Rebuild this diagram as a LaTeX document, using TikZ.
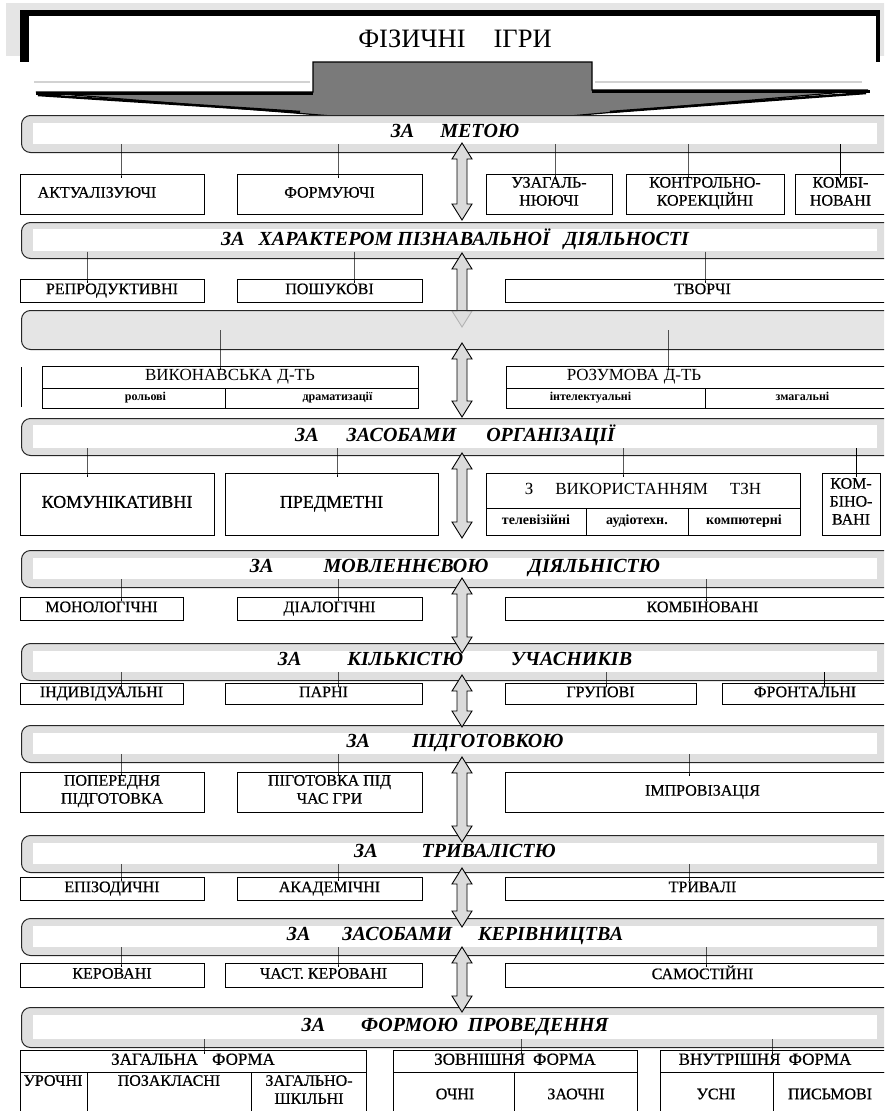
\documentclass[tikz,border=0pt]{standalone}
\usepackage{fontspec}
\setmainfont{Liberation Serif}
\newfontfamily\medfont{Liberation Serif}[FakeBold=0.6]
\newcommand\hdrf{\fontsize{17}{19}\selectfont}
\newcommand\catbar[4]{%
  \node[bar, minimum height={#3-#2}] (#1) at (21,#2) {};
  \node[wbox, minimum height={#3-#2-16}] (w#1) at (455,{(#2+#3)/2}) {#4\strut};}
\newcommand\ibox[6]{%
  \node[item, minimum width={#4-#2}, minimum height={#5-#3}] (#1) at ({(#2+#4)/2},{(#3+#5)/2}) {#6\strut};}
\newcommand\cell[6]{%
  \node[cellbox, minimum width={#4-#2}, minimum height={#5-#3}] (#1) at ({(#2+#4)/2},{(#3+#5)/2}) {#6\strut};}
\newcommand\conn[3]{\draw[connline] (#1.south -| #3,0) -- (#2.north -| #3,0) -- ++(0,4);}
\newcommand\darrow[3]{%
  \draw[blockarrow] (462,#2) -- (472,{#2+16}) -- (467,{#2+16}) -- (467,{#3-16}) -- (472,{#3-16}) -- (462,#3)
   -- (452,{#3-16}) -- (457,{#3-16}) -- (457,{#2+16}) -- (452,{#2+16}) -- cycle;
  \coordinate (#1) at (462,{(#2+#3)/2});}
\begin{document}
\begin{tikzpicture}[x=1pt,y=-1pt,
  bar/.style={draw=black!85, line width=1pt, rounded corners=9pt, fill=gray!25, anchor=north west, minimum width=900pt, inner sep=0pt},
  wbox/.style={fill=white, draw=none, minimum width=844pt, inner sep=0pt, font=\bfseries\itshape\fontsize{20}{21}\selectfont},
  item/.style={draw=black, line width=0.8pt, fill=white, inner sep=1pt, align=center, font=\medfont\fontsize{16}{18}\selectfont},
  cellbox/.style={draw=black, line width=0.8pt, fill=white, inner sep=1pt, align=center, font=\bfseries\fontsize{12}{14}\selectfont},
  connline/.style={draw=black, line width=0.8pt},
  blockarrow/.style={draw=black, line width=0.9pt, fill=gray!28},
  txt/.style={inner sep=0pt, align=center, font=\medfont\fontsize{16}{18}\selectfont}]
\useasboundingbox (0,0) rectangle (884,1111);
\clip (0,0) rectangle (884,1111);
\fill[white] (0,0) rectangle (884,1111);
% ---------- title banner ----------
\fill[gray!20] (6,3) rectangle (890,56);
\fill[black] (20,10) rectangle (880,62);
\fill[white] (29,16) rectangle (876,90);
\draw[gray!35, line width=2pt] (34,82) -- (310,82) (595,82) -- (862,82);
\filldraw[fill=black!52, draw=black, line width=1.2pt] (313,62) -- (592,62) -- (592,90) -- (868,90) -- (455,126) -- (36,92) -- (313,92) -- cycle;
\draw[black, line width=3pt] (36,93) -- (313,93) (592,91) -- (870,91);
\draw[black, line width=2.5pt] (38,95) -- (300,112) (866,93) -- (610,112);
\node[font=\fontsize{26.5}{28}\selectfont, inner sep=0pt] (title) at (455,39) {ФІЗИЧНІ\hspace{28pt}ІГРИ};
% ---------- bars ----------
\catbar{b1}{115}{152}{ЗА\hspace{26pt}МЕТОЮ}
\catbar{b2}{222}{258}{ЗА\hspace{14pt}ХАРАКТЕРОМ ПІЗНАВАЛЬНОЇ\hspace{14pt}ДІЯЛЬНОСТІ}
\darrow{a1}{143}{220}
\darrow{a2}{253}{327}
\node[bar, minimum height=39pt, fill opacity=0.8] (b3) at (21,310) {};
\catbar{b4}{418}{455}{ЗА\hspace{28pt}ЗАСОБАМИ\hspace{30pt}ОРГАНІЗАЦІЇ}
\catbar{b5}{550}{587}{ЗА\hspace{50pt}МОВЛЕННЄВОЮ\hspace{40pt}ДІЯЛЬНІСТЮ}
\catbar{b6}{643}{680}{ЗА\hspace{46pt}КІЛЬКІСТЮ\hspace{48pt}УЧАСНИКІВ}
\catbar{b7}{725}{762}{ЗА\hspace{42pt}ПІДГОТОВКОЮ}
\catbar{b8}{835}{872}{ЗА\hspace{44pt}ТРИВАЛІСТЮ}
\catbar{b9}{918}{955}{ЗА\hspace{32pt}ЗАСОБАМИ\hspace{26pt}КЕРІВНИЦТВА}
\catbar{b10}{1007}{1047}{ЗА\hspace{36pt}ФОРМОЮ\hspace{10pt}ПРОВЕДЕННЯ}
% ---------- row 1 ----------
\ibox{r1a}{20}{174}{204}{214}{\hspace{-30pt}АКТУАЛІЗУЮЧІ}
\ibox{r1b}{237}{174}{422}{214}{ФОРМУЮЧІ}
\ibox{r1c}{486}{174}{612}{214}{УЗАГАЛЬ-\\НЮЮЧІ}
\ibox{r1d}{626}{174}{784}{214}{КОНТРОЛЬНО-\\КОРЕКЦІЙНІ}
\ibox{r1e}{795}{174}{900}{214}{\hspace{-14pt}КОМБІ-\\\hspace{-14pt}НОВАНІ}
\conn{wb1}{r1a}{121}\conn{wb1}{r1b}{338}\conn{wb1}{r1c}{555}\conn{wb1}{r1d}{688}\conn{wb1}{r1e}{840}
% ---------- row 2 ----------
\ibox{r2a}{20}{279}{204}{302}{РЕПРОДУКТИВНІ}
\ibox{r2b}{237}{279}{422}{302}{ПОШУКОВІ}
\ibox{r2c}{505}{279}{900}{302}{ТВОРЧІ}
\conn{wb2}{r2a}{87}\conn{wb2}{r2b}{354}\conn{wb2}{r2c}{705}
% ---------- row 3 ----------
\draw[connline] (21,367) -- (21,407);
\cell{r3a}{42}{366}{418}{388}{\hdrf\mdseries ВИКОНАВСЬКА\hspace{5pt}Д-ТЬ}
\cell{r3a1}{42}{388}{225}{408}{\hspace{24pt}рольові}
\cell{r3a2}{225}{388}{418}{408}{\hspace{32pt}драматизації}
\cell{r3b}{506}{366}{900}{388}{\hspace{-138pt}\hdrf\mdseries РОЗУМОВА\hspace{5pt}Д-ТЬ}
\cell{r3b1}{506}{388}{705}{408}{\hspace{-30pt}інтелектуальні}
\cell{r3b2}{705}{388}{900}{408}{змагальні}
\draw[connline] (b3.center -| 220,0) -- (r3a.north -| 220,0) -- ++(0,4);
\draw[connline] (b3.center -| 668,0) -- (r3b.north -| 668,0) -- ++(0,4);
\darrow{a3}{343}{417}
% ---------- row 4 ----------
\ibox{r4a}{20}{473}{214}{535}{\fontsize{18}{19}\selectfont КОМУНІКАТИВНІ}
\ibox{r4b}{225}{473}{438}{535}{\fontsize{18}{19}\selectfont ПРЕДМЕТНІ}
\cell{r4c}{486}{473}{800}{508}{\hdrf\mdseries З\hspace{22pt}ВИКОРИСТАННЯМ\hspace{22pt}ТЗН}
\cell{r4c1}{486}{508}{586}{535}{\fontsize{14}{15}\selectfont телевізійні}
\cell{r4c2}{586}{508}{688}{535}{\fontsize{14}{15}\selectfont аудіотехн.}
\cell{r4c3}{688}{508}{800}{535}{\fontsize{14}{15}\selectfont компютерні}
\ibox{r4d}{822}{473}{880}{535}{КОМ-\\БІНО-\\ВАНІ}
\conn{wb4}{r4a}{87}\conn{wb4}{r4b}{337}\conn{wb4}{r4c}{623}\conn{wb4}{r4d}{856}
\darrow{a4}{453}{538}
% ---------- row 5 ----------
\ibox{r5a}{20}{597}{183}{620}{МОНОЛОГІЧНІ}
\ibox{r5b}{237}{597}{422}{620}{ДІАЛОГІЧНІ}
\ibox{r5c}{505}{597}{900}{620}{КОМБІНОВАНІ}
\conn{wb5}{r5a}{121}\conn{wb5}{r5b}{338}\conn{wb5}{r5c}{706}
\darrow{a5}{578}{653}
% ---------- row 6 ----------
\ibox{r6a}{20}{683}{183}{704}{ІНДИВІДУАЛЬНІ}
\ibox{r6b}{225}{683}{422}{704}{ПАРНІ}
\ibox{r6c}{505}{683}{696}{704}{ГРУПОВІ}
\ibox{r6d}{722}{683}{900}{704}{\hspace{-12pt}ФРОНТАЛЬНІ}
\conn{wb6}{r6a}{121}\conn{wb6}{r6b}{338}\conn{wb6}{r6c}{606}\conn{wb6}{r6d}{824}
\darrow{a6}{675}{727}
% ---------- row 7 ----------
\ibox{r7a}{20}{772}{204}{812}{ПОПЕРЕДНЯ\\ПІДГОТОВКА}
\ibox{r7b}{237}{772}{422}{812}{ПІГОТОВКА ПІД\\ЧАС ГРИ}
\ibox{r7c}{505}{772}{900}{812}{ІМПРОВІЗАЦІЯ}
\conn{wb7}{r7a}{121}\conn{wb7}{r7b}{338}\conn{wb7}{r7c}{689}
\darrow{a7}{757}{842}
% ---------- row 8 ----------
\ibox{r8a}{20}{877}{204}{900}{ЕПІЗОДИЧНІ}
\ibox{r8b}{237}{877}{422}{900}{АКАДЕМІЧНІ}
\ibox{r8c}{505}{877}{900}{900}{ТРИВАЛІ}
\conn{wb8}{r8a}{121}\conn{wb8}{r8b}{338}\conn{wb8}{r8c}{689}
\darrow{a8}{868}{927}
% ---------- row 9 ----------
\ibox{r9a}{20}{963}{204}{987}{КЕРОВАНІ}
\ibox{r9b}{225}{963}{422}{987}{ЧАСТ. КЕРОВАНІ}
\ibox{r9c}{505}{963}{900}{987}{САМОСТІЙНІ}
\conn{wb9}{r9a}{121}\conn{wb9}{r9b}{338}\conn{wb9}{r9c}{706}
\darrow{a9}{947}{1012}
% ---------- row 10 ----------
\ibox{t1}{20}{1050}{366}{1072}{\hdrf ЗАГАЛЬНА\hspace{14pt}ФОРМА}
\ibox{t1a}{20}{1072}{87}{1120}{}
\ibox{t1b}{87}{1072}{251}{1120}{}
\ibox{t1c}{251}{1072}{366}{1120}{}
\node[txt, anchor=north] (t1at) at (53,1075) {УРОЧНІ};
\node[txt, anchor=north] (t1bt) at (169,1075) {ПОЗАКЛАСНІ};
\node[txt, anchor=north] (t1ct) at (309,1075) {ЗАГАЛЬНО-\\ШКІЛЬНІ};
\ibox{t2}{393}{1050}{637}{1072}{\hdrf ЗОВНІШНЯ\hspace{8pt}ФОРМА}
\ibox{t2a}{393}{1072}{514}{1120}{}
\ibox{t2b}{514}{1072}{637}{1120}{}
\node[txt] (t2at) at (455,1094) {ОЧНІ};
\node[txt] (t2bt) at (576,1094) {ЗАОЧНІ};
\ibox{t3}{660}{1050}{900}{1072}{\hspace{-30pt}\hdrf ВНУТРІШНЯ\hspace{8pt}ФОРМА}
\ibox{t3a}{660}{1072}{773}{1120}{}
\ibox{t3b}{773}{1072}{900}{1120}{}
\node[txt] (t3at) at (716,1094) {УСНІ};
\node[txt] (t3bt) at (830,1094) {ПИСЬМОВІ};
\conn{wb10}{t1}{204}\conn{wb10}{t2}{521}\conn{wb10}{t3}{772}
\end{tikzpicture}
\end{document}
